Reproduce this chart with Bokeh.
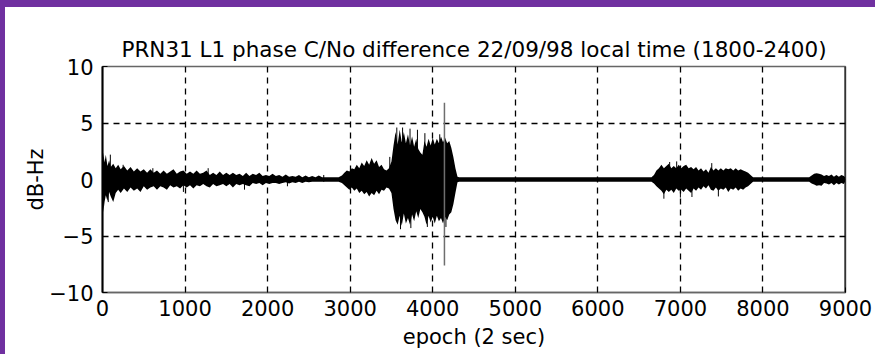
from bokeh.plotting import figure
from bokeh.models import Range1d, FixedTicker, Span
from bokeh.embed import file_html
from bokeh.resources import INLINE

TITLE = "PRN31 L1 phase C/No difference 22/09/98 local time (1800-2400)"
X_LABEL = "epoch (2 sec)"
Y_LABEL = "dB-Hz"
x_ticks = [0, 1000, 2000, 3000, 4000, 5000, 6000, 7000, 8000, 9000]
y_ticks = [-10, -5, 0, 5, 10]

# envelope of the C/No difference trace
env_epoch = [0, 10, 25, 40, 60, 80, 100, 130, 160, 190, 220, 260, 300, 340, 380, 420, 460, 500,
             540, 580, 620, 660, 700, 740, 780, 820, 860, 900, 940, 980, 1020, 1060, 1100, 1140,
             1180, 1220, 1260, 1300, 1340, 1380, 1420, 1460, 1500, 1540, 1580, 1620, 1660, 1700,
             1740, 1780, 1820, 1860, 1900, 1940, 1980, 2020, 2060, 2100, 2140, 2180, 2220, 2260,
             2300, 2340, 2380, 2420, 2460, 2500, 2540, 2580, 2620, 2660, 2860,
             2900, 2930, 2960, 2990, 3020, 3050, 3080, 3110, 3140, 3170, 3200, 3230, 3260, 3290,
             3320, 3350, 3380, 3410, 3440, 3470, 3500,
             3525, 3550, 3575, 3600, 3625, 3650, 3675, 3700, 3725, 3750, 3775, 3800, 3825, 3850,
             3875, 3900, 3925, 3950, 3975, 4000, 4025, 4050, 4075, 4100, 4125, 4150, 4175, 4200,
             4225, 4250, 4275, 4300, 4320, 6650,
             6680, 6710, 6740, 6770, 6800, 6830, 6860, 6890, 6920, 6950, 6980, 7010, 7040, 7070,
             7100, 7130, 7160, 7190, 7220, 7250, 7280, 7310, 7340, 7370, 7400, 7430, 7460, 7490,
             7520, 7550, 7580, 7610, 7640, 7670, 7700, 7730, 7760, 7790, 7820, 7850, 7880, 8560,
             8590, 8620, 8650, 8680, 8710, 8740, 8770, 8800, 8830, 8860, 8890, 8920, 8950, 8980, 8995]
env_upper = [0.4, 2.4, 1.5, 2.2, 1.2, 1.7, 1.1, 1.4, 1.0, 1.3, 0.9, 1.2, 0.8, 1.1, 0.7, 1.0, 0.7, 0.9,
             0.6, 0.9, 0.6, 0.8, 0.5, 0.8, 0.5, 0.7, 0.9, 0.5, 0.7, 0.8, 0.5, 0.7, 0.5, 0.8,
             0.5, 0.6, 0.8, 0.4, 0.6, 0.4, 0.7, 0.4, 0.6, 0.4, 0.6, 0.4, 0.5, 0.3,
             0.6, 0.3, 0.5, 0.4, 0.6, 0.3, 0.4, 0.3, 0.5, 0.3, 0.4, 0.25, 0.45, 0.25,
             0.3, 0.25, 0.4, 0.2, 0.35, 0.2, 0.3, 0.2, 0.35, 0.2, 0.2,
             0.35, 0.6, 0.8, 0.7, 1.0, 0.9, 1.3, 1.0, 1.5, 1.2, 1.7, 1.3, 1.9, 1.4,
             1.7, 1.1, 1.3, 0.9, 0.8, 1.0, 1.6,
             3.0, 4.2, 3.1, 4.4, 3.3, 4.2, 3.2, 4.0, 3.0, 3.8, 2.9, 3.6, 2.7, 2.4,
             2.2, 3.4, 2.9, 3.6, 3.0, 3.7, 3.1, 3.6, 3.2, 3.8, 3.3, 3.7, 3.2, 3.4,
             2.8, 2.0, 1.0, 0.25, 0.2, 0.2,
             0.4, 0.8, 1.0, 1.3, 1.0, 1.2, 1.4, 1.0, 1.2, 1.0, 1.3, 1.0, 1.2, 1.3,
             1.0, 1.1, 0.9, 1.1, 0.8, 1.0, 0.7, 0.9, 0.6, 1.1, 0.8, 1.0, 0.8, 1.0,
             0.8, 1.0, 0.9, 1.0, 0.8, 1.0, 0.8, 0.9, 0.8, 0.7, 0.6, 0.4, 0.2, 0.2,
             0.35, 0.5, 0.55, 0.5, 0.45, 0.3, 0.4, 0.3, 0.45, 0.25, 0.4, 0.25, 0.4, 0.3, 0.2]
env_lower = [-0.6, -2.9, -2.0, -1.4, -1.9, -1.1, -1.5, -2.0, -1.2, -0.9, -1.2, -0.8, -1.1, -0.7, -1.0, -0.8, -1.1, -0.6,
             -0.9, -0.7, -0.6, -0.9, -0.6, -0.7, -0.9, -0.5, -0.7, -0.6, -0.8, -0.5, -0.7, -0.5, -0.8, -0.5,
             -0.6, -0.4, -0.6, -0.7, -0.4, -0.6, -0.5, -0.4, -0.6, -0.4, -0.7, -0.4, -0.5, -0.4,
             -0.5, -0.6, -0.3, -0.4, -0.3, -0.5, -0.3, -0.4, -0.3, -0.3, -0.4, -0.3, -0.25, -0.35,
             -0.25, -0.3, -0.2, -0.3, -0.2, -0.25, -0.2, -0.2, -0.2, -0.2, -0.2,
             -0.3, -0.5, -0.7, -0.9, -0.7, -1.0, -0.8, -1.2, -1.0, -1.3, -1.1, -1.5, -1.2, -1.4,
             -1.0, -1.3, -0.9, -1.0, -0.7, -0.8, -1.2,
             -2.6, -3.6, -4.0, -3.2, -4.1, -3.0, -3.9, -3.4, -4.0, -3.1, -3.7, -2.8, -3.4, -2.6,
             -2.9, -3.3, -4.0, -3.2, -3.8, -3.3, -3.9, -3.2, -3.7, -3.4, -3.9, -3.3, -3.6, -3.1,
             -2.9, -2.2, -1.2, -0.25, -0.2, -0.2,
             -0.35, -0.6, -0.8, -1.0, -1.3, -0.9, -1.1, -0.9, -1.2, -0.8, -1.0, -0.9, -1.1, -0.8,
             -1.0, -1.2, -0.8, -1.0, -0.7, -0.9, -0.6, -0.8, -0.5, -0.9, -1.0, -0.7, -1.0, -0.8,
             -0.9, -0.7, -1.1, -0.8, -0.9, -0.7, -1.0, -0.8, -0.9, -0.7, -0.6, -0.4, -0.2, -0.2,
             -0.35, -0.45, -0.55, -0.5, -0.55, -0.3, -0.35, -0.45, -0.3, -0.5, -0.3, -0.45, -0.3, -0.4, -0.2]

# isolated thin spikes
spike_epoch = [70, 95, 250, 610, 980, 1280, 1720, 2240, 2680, 3480, 3565, 3610, 3635, 3725,
               3735, 3815, 3905, 3935, 4085, 4160, 6800, 6870, 6955, 7000, 7140, 7380, 7460]
spike_top = [0.5, 2.2, 1.3, 1.0, 0.3, 1.0, 0.3, 0.3, 0.4, 2.0, 4.6, 0.5, 4.6, 4.5,
             0.5, 4.4, 4.1, 0.5, 4.0, 0.5, 0.5, 1.55, 1.6, 0.5, 0.5, 1.45, 0.5]
spike_bottom = [-2.0, -0.5, -0.3, -0.3, -1.1, -0.3, -0.9, -0.6, -0.2, -0.5, -0.5, -4.4, -0.5, -0.5,
                -4.3, -0.5, -0.5, -4.2, -0.5, -4.2, -1.7, -0.5, -0.5, -1.6, -1.55, -0.5, -1.5]

big_spike_epoch = [4142]
big_spike_top = [6.8]
big_spike_bottom = [-7.6]

FONT = "DejaVu Sans"

p = figure(width=875, height=354, output_backend="svg", toolbar_location=None,
           x_range=Range1d(0, 9000), y_range=Range1d(-10, 10),
           min_border_left=102, min_border_right=30, min_border_top=66, min_border_bottom=62,
           title=TITLE)
p.border_fill_color = None
p.background_fill_color = "white"
p.outline_line_color = "#666666"
p.outline_line_width = 1.5

p.title.align = "center"
p.title.text_font = FONT
p.title.text_font_size = "21.5px"
p.title.text_font_style = "normal"
p.title.text_color = "black"
p.title.text_line_height = 1.6
p.title.standoff = 10

for ax in (p.xaxis[0], p.yaxis[0]):
    ax.major_label_text_font = FONT
    ax.major_label_text_font_size = "21px"
    ax.major_label_text_color = "black"
    ax.axis_label_text_font = FONT
    ax.axis_label_text_font_size = "21px"
    ax.axis_label_text_font_style = "normal"
    ax.axis_label_text_color = "black"
    ax.major_tick_in = 5
    ax.major_tick_out = 0
    ax.minor_tick_in = 0
    ax.minor_tick_out = 0
    ax.major_tick_line_color = "black"

p.xaxis.axis_line_color = "#666666"
p.xaxis.axis_line_width = 1.5
p.yaxis.axis_line_color = "black"
p.yaxis.axis_line_width = 2

p.xaxis.ticker = FixedTicker(ticks=x_ticks)
p.yaxis.ticker = FixedTicker(ticks=y_ticks)
p.xaxis.axis_label = X_LABEL
p.yaxis.axis_label = Y_LABEL
p.xaxis.major_label_standoff = 7
p.xaxis.axis_label_standoff = 6
p.yaxis.major_label_standoff = 9
p.yaxis.axis_label_standoff = -2

p.xgrid.ticker = FixedTicker(ticks=x_ticks)
p.ygrid.ticker = FixedTicker(ticks=y_ticks)
for g in (p.xgrid[0], p.ygrid[0]):
    g.grid_line_color = "black"
    g.grid_line_dash = "6 5"
    g.grid_line_width = 1.3

p.varea(x=env_epoch, y1=env_lower, y2=env_upper, fill_color="black")
p.segment(x0=spike_epoch, y0=spike_bottom, x1=spike_epoch, y1=spike_top,
          line_color="black", line_width=1)
p.segment(x0=big_spike_epoch, y0=big_spike_bottom, x1=big_spike_epoch, y1=big_spike_top,
          line_color="#6e6e6e", line_width=1.5)

p.add_layout(Span(location=x_ticks[-1], dimension="height", line_color="black", line_width=2))

html = file_html(p, INLINE, title="PRN31 L1 phase C/No difference")
css = ("<style>html{min-height:100%;background:"
       "linear-gradient(#7030A0,#7030A0) 0 0/100% 7px no-repeat,"
       "linear-gradient(#7030A0,#7030A0) 0 0/5px 100% no-repeat,#ffffff;}"
       "body{margin:0;padding:0;}</style>")
html = html.replace("</head>", css + "</head>", 1)
open("out.html", "w").write(html)
